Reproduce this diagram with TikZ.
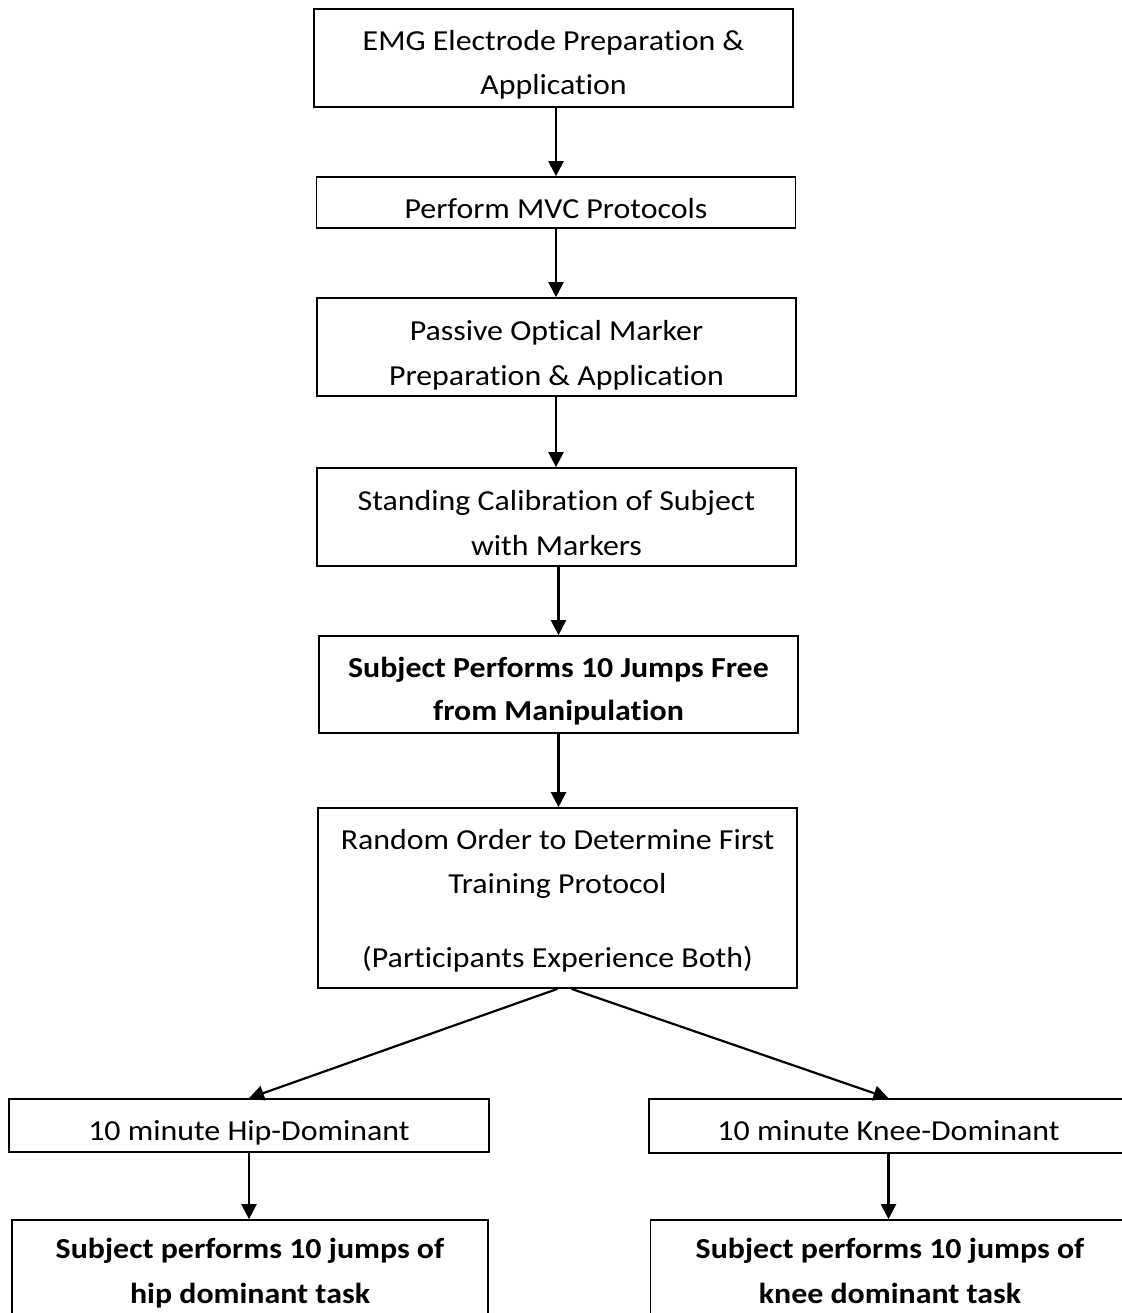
\documentclass[tikz,border=0pt]{standalone}
\usepackage{fontspec}
\setmainfont{Carlito}[FakeStretch=1.10, Ligatures=NoCommon]
\usetikzlibrary{arrows.meta}

\tikzset{
  stepbox/.style={draw, line width=0.85pt, minimum width=239.5pt,
                  minimum height=49pt, inner sep=0pt},
  boxtext/.style={anchor=base, inner sep=0pt,
                  font=\fontsize{14.5}{22}\selectfont},
  flow/.style={-{Triangle[width=7.5pt,length=7.5pt]}, line width=1.1pt}
}

\begin{document}
\begin{tikzpicture}[x=0.5pt, y=-0.5pt]
    \useasboundingbox (0,0) rectangle (1122,1313);
    \clip (0,0) rectangle (1122,1313);
    % main column
    \node[stepbox] (emg)   at (553.5,58)  {};
    \node[stepbox, minimum height=25.5pt] (mvc) at (556,202.5) {};
    \node[stepbox] (pass)  at (556.5,347) {};
    \node[stepbox] (stand) at (556.5,517) {};
    \node[stepbox, minimum height=48.5pt] (free) at (558.5,684.5) {};
    \node[stepbox, minimum height=90pt]   (rand) at (557.5,898) {};
    % the two branches
    \node[stepbox, minimum width=240pt, minimum height=26.5pt] (hip)
          at (249,1125.5) {};
    \node[stepbox, minimum height=27pt] (knee) at (888.5,1126) {};
    \node[stepbox, minimum width=238pt, minimum height=60pt] (hiptask)
          at (250,1280) {};
    \node[stepbox, minimum height=60pt] (kneetask) at (890,1280) {};

    % texts, one node per printed line
    \node[boxtext] (emgA)   at (553.5,50)  {EMG Electrode Preparation \&};
    \node[boxtext] (emgB)   at (553.5,94)  {Application};
    \node[boxtext] (mvcA)   at (556,218)   {Perform MVC Protocols};
    \node[boxtext] (passA)  at (556.5,340) {Passive Optical Marker};
    \node[boxtext] (passB)  at (556.5,385) {Preparation \& Application};
    \node[boxtext] (standA) at (556.5,510) {Standing Calibration of Subject};
    \node[boxtext] (standB) at (556.5,555) {with Markers};
    \node[boxtext, font=\fontsize{14.5}{22}\selectfont\bfseries] (freeA)
          at (558.5,677) {Subject Performs 10 Jumps Free};
    \node[boxtext, font=\fontsize{14.5}{22}\selectfont\bfseries] (freeB)
          at (558.5,720) {from Manipulation};
    \node[boxtext] (randA)  at (557.5,849) {Random Order to Determine First};
    \node[boxtext] (randB)  at (557.5,893) {Training Protocol};
    \node[boxtext] (randC)  at (557.5,967) {(Participants Experience Both)};
    \node[boxtext] (hipA)   at (249,1140)  {10 minute Hip-Dominant};
    \node[boxtext] (kneeA)  at (888.5,1140) {10 minute Knee-Dominant};
    \node[boxtext, font=\fontsize{14.5}{22}\selectfont\bfseries] (hiptaskA)
          at (250,1258) {Subject performs 10 jumps of};
    \node[boxtext, font=\fontsize{14.5}{22}\selectfont\bfseries] (hiptaskB)
          at (250,1303) {hip dominant task};
    \node[boxtext, font=\fontsize{14.5}{22}\selectfont\bfseries] (kneetaskA)
          at (890,1258) {Subject performs 10 jumps of};
    \node[boxtext, font=\fontsize{14.5}{22}\selectfont\bfseries] (kneetaskB)
          at (890,1303) {knee dominant task};

    % connectors
    \draw[flow] (mvc.north |- emg.south) -- (mvc.north);
    \draw[flow] (mvc.south) -- (mvc.south |- pass.north);
    \draw[flow] (mvc.south |- pass.south) -- (mvc.south |- stand.north);
    \draw[flow] (free.north |- stand.south) -- (free.north);
    \draw[flow] (free.south) -- (free.south |- rand.north);
    \draw[flow] (rand.south) -- (hip.north);
    \draw[flow] ([xshift=7pt]rand.south) -- (knee.north);
    \draw[flow] (hip.south) -- (hip.south |- hiptask.north);
    \draw[flow] (knee.south) -- (knee.south |- kneetask.north);
\end{tikzpicture}
\end{document}
